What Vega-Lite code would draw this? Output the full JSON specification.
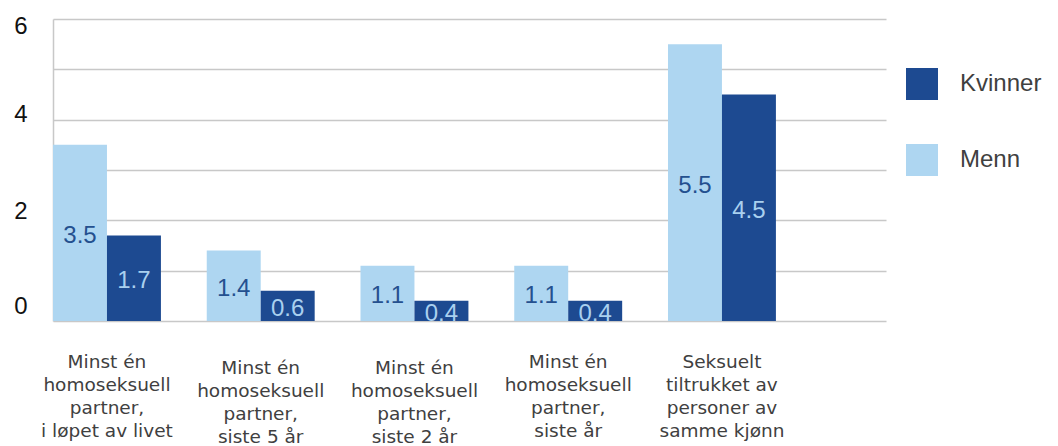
{
  "$schema": "https://vega.github.io/schema/vega-lite/v6.json",
  "width": 833,
  "height": 302,
  "autosize": {"type": "none"},
  "padding": {"left": 53, "top": 19, "right": 172, "bottom": 125},
  "background": "white",
  "config": {"view": {"stroke": null}, "font": "Liberation Sans"},
  "data": {
    "values": [
      {"kategori": "Minst én|homoseksuell|partner,|i løpet av livet", "kjonn": "Menn", "verdi": 3.5},
      {"kategori": "Minst én|homoseksuell|partner,|i løpet av livet", "kjonn": "Kvinner", "verdi": 1.7},
      {"kategori": "Minst én|homoseksuell|partner,|siste 5 år", "kjonn": "Menn", "verdi": 1.4},
      {"kategori": "Minst én|homoseksuell|partner,|siste 5 år", "kjonn": "Kvinner", "verdi": 0.6},
      {"kategori": "Minst én|homoseksuell|partner,|siste 2 år", "kjonn": "Menn", "verdi": 1.1},
      {"kategori": "Minst én|homoseksuell|partner,|siste 2 år", "kjonn": "Kvinner", "verdi": 0.4},
      {"kategori": "Minst én|homoseksuell|partner,|siste år", "kjonn": "Menn", "verdi": 1.1},
      {"kategori": "Minst én|homoseksuell|partner,|siste år", "kjonn": "Kvinner", "verdi": 0.4},
      {"kategori": "Seksuelt|tiltrukket av|personer av|samme kjønn", "kjonn": "Menn", "verdi": 5.5},
      {"kategori": "Seksuelt|tiltrukket av|personer av|samme kjønn", "kjonn": "Kvinner", "verdi": 4.5}
    ]
  },
  "layer": [
    {
      "mark": {"type": "bar"},
      "encoding": {
        "x": {
          "field": "kategori", "type": "nominal", "sort": null, "title": null,
          "scale": {"paddingInner": 0.298, "paddingOuter": 0.358, "align": 0},
          "axis": {
            "labelAngle": 0, "domain": false, "ticks": false, "grid": false,
            "labelExpr": "split(datum.label, '|')",
            "labelFont": "DejaVu Sans", "labelFontSize": 18.5, "labelLineHeight": 23.3,
            "labelColor": "#404040", "labelBaseline": "top",
            "labelPadding": {"expr": "indexof(datum.value, 'siste 5') >= 0 || indexof(datum.value, 'siste 2') >= 0 ? 37 : 31"},
            "labelLimit": 300, "labelOverlap": false
          }
        },
        "xOffset": {"field": "kjonn", "type": "nominal", "sort": ["Menn", "Kvinner"], "scale": {"paddingInner": 0, "paddingOuter": 0}},
        "y": {
          "field": "verdi", "type": "quantitative", "title": null,
          "scale": {"domain": [0, 6], "nice": false},
          "axis": {
            "values": [0, 1, 2, 3, 4, 5, 6],
            "labelExpr": "datum.value % 2 === 0 ? datum.label : ''",
            "grid": true, "gridColor": "#c8c8c8", "gridWidth": 1.3,
            "domain": true, "domainColor": "#c8c8c8", "domainWidth": 1.5,
            "ticks": false, "labelFont": "Liberation Sans", "labelFontSize": 24,
            "labelColor": "#111111", "labelPadding": 26, "labelAlign": "right",
            "labelBaseline": "middle", "labelFlush": false, "labelOverlap": false,
            "labelOffset": {"expr": "datum.value == 6 ? 7 : datum.value == 4 ? -5 : datum.value == 2 ? -9 : datum.value == 0 ? -15 : 0"}
          }
        },
        "color": {
          "field": "kjonn", "type": "nominal",
          "scale": {"domain": ["Kvinner", "Menn"], "range": ["#1d4a91", "#aed6f1"]},
          "legend": {
            "title": null, "orient": "none", "legendX": 853, "legendY": 49,
            "symbolType": "square", "symbolSize": 1024, "symbolStrokeWidth": 0, "symbolOpacity": 1,
            "labelFont": "Liberation Sans", "labelFontSize": 24, "labelColor": "#404040",
            "labelOffset": 22, "rowPadding": 44, "padding": 0, "labelLimit": 200
          }
        }
      }
    },
    {
      "mark": {"type": "text", "font": "Liberation Sans", "fontSize": 24, "baseline": "middle", "dy": 3},
      "encoding": {
        "x": {"field": "kategori", "type": "nominal", "sort": null, "title": null},
        "xOffset": {"field": "kjonn", "type": "nominal", "sort": ["Menn", "Kvinner"]},
        "y": {"field": "verdi", "type": "quantitative", "scale": {"domain": [0, 12], "nice": false}, "axis": null},
        "text": {"field": "verdi", "type": "quantitative", "format": ".1f"},
        "color": {"condition": {"test": "datum.kjonn === 'Menn'", "value": "#24508f"}, "value": "#a9d0ef"}
      }
    }
  ],
  "resolve": {"scale": {"y": "independent"}}
}
